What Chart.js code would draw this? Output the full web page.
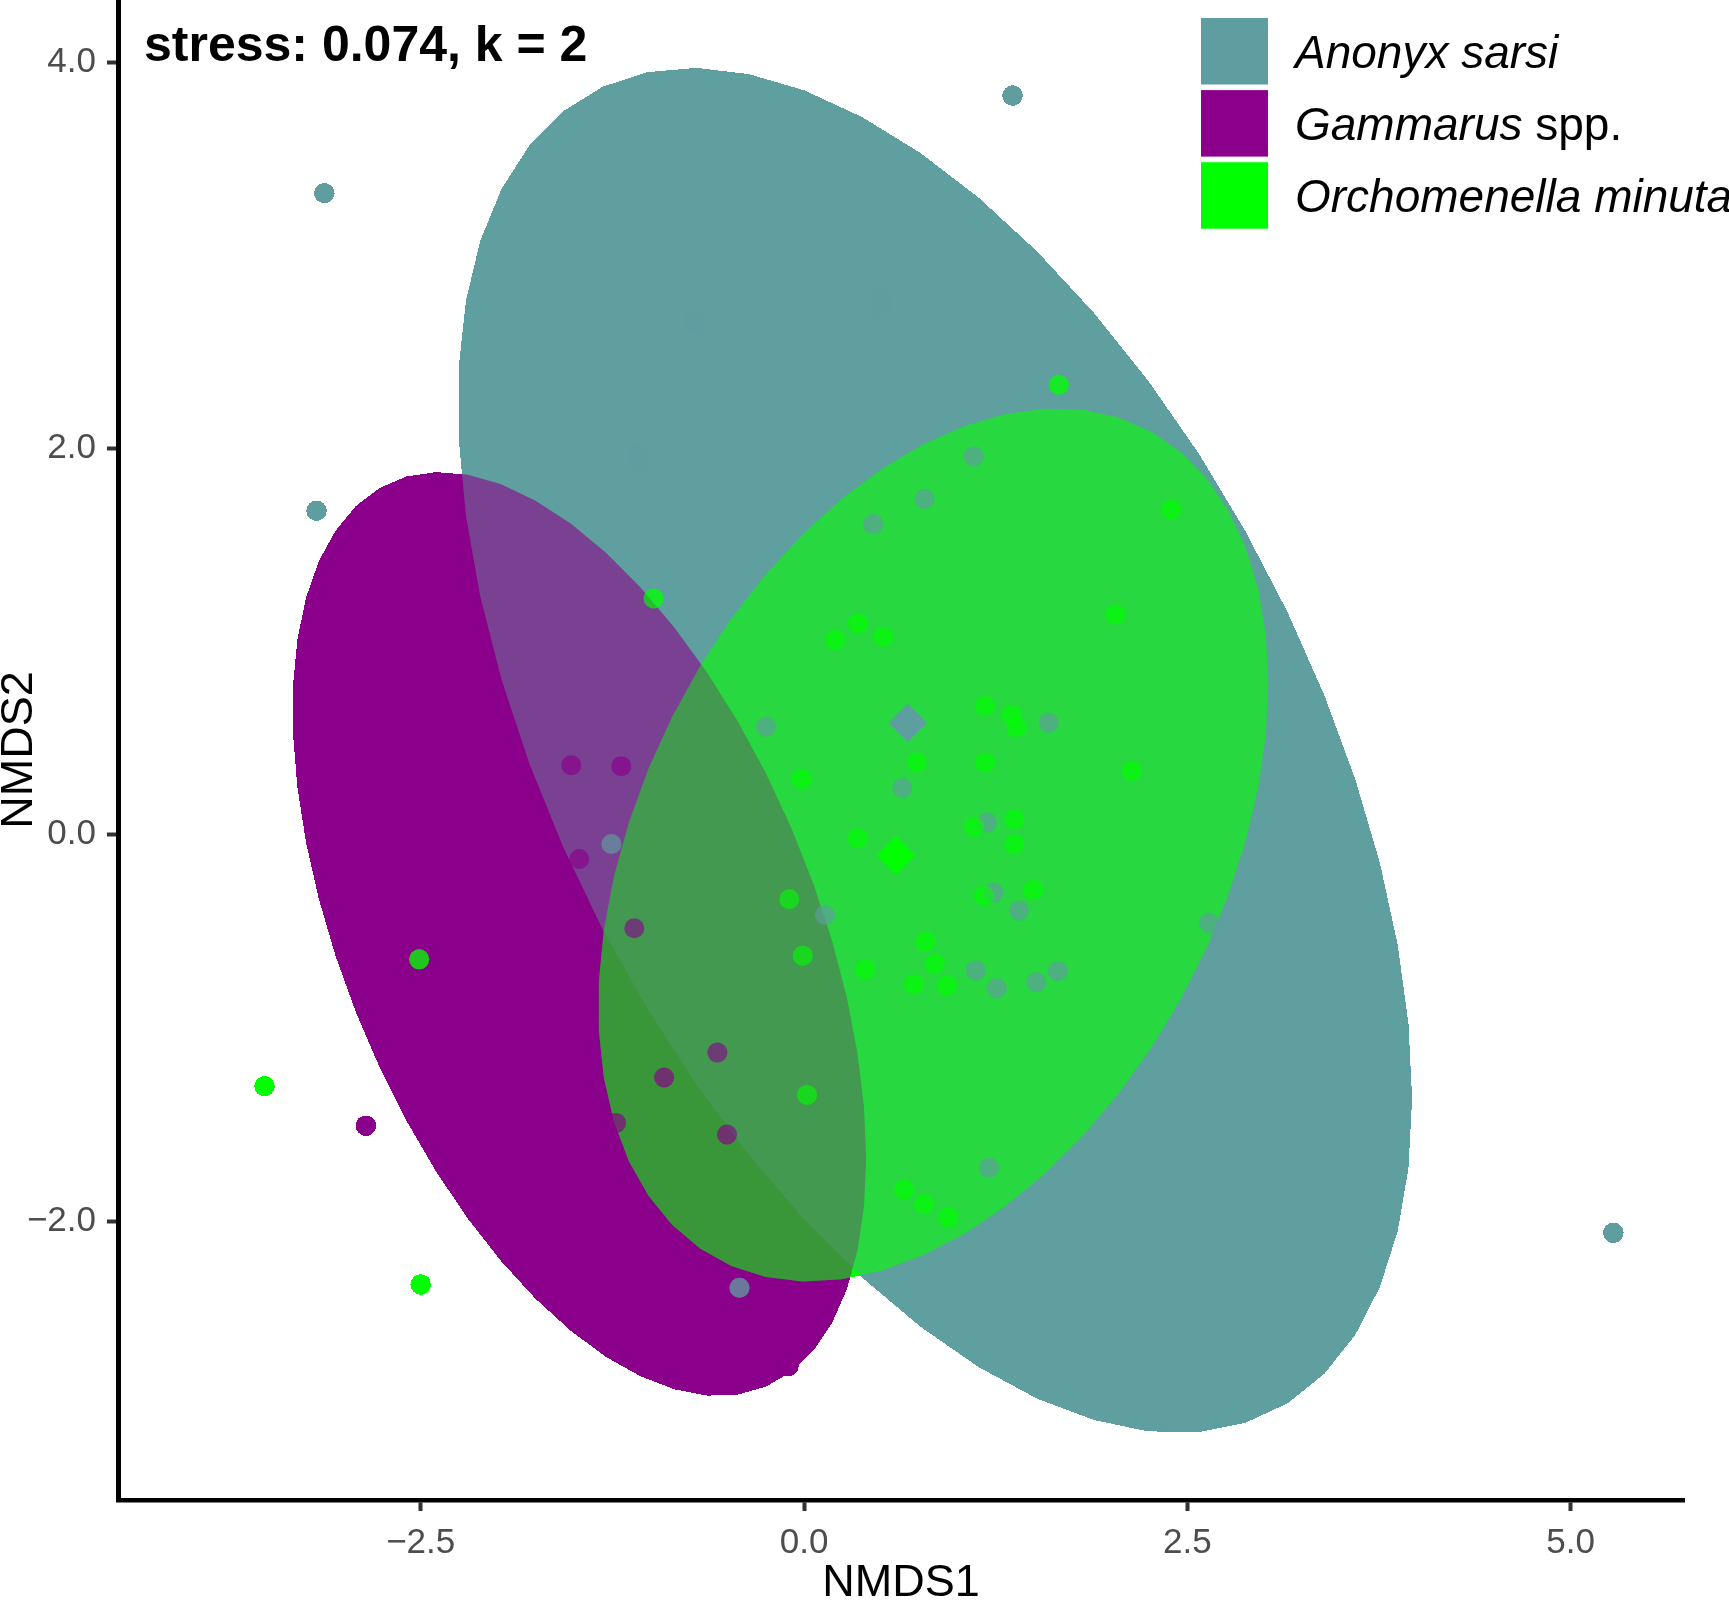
<!DOCTYPE html>
<html>
<head>
<meta charset="utf-8">
<title>NMDS ordination</title>
<script src="https://cdn.jsdelivr.net/npm/chart.js@4.4.1/dist/chart.umd.min.js"></script>
<style>
  html, body { margin: 0; padding: 0; background: #fff; }
  #wrap { width: 1729px; height: 1602px; }
</style>
</head>
<body>
<div id="wrap"><canvas id="nmds" width="1729" height="1602"></canvas></div>
<script>
// species / groups
const groups = ['Anonyx sarsi', 'Gammarus spp.', 'Orchomenella minuta'];
const groupRgb = ['95,158,160', '139,0,139', '0,255,0'];
const legendItalic = ['Anonyx sarsi', 'Gammarus', 'Orchomenella minuta'];
const legendPlain = ['', ' spp.', ''];

// site scores (NMDS1, NMDS2) per species
const anonyxX = [1.360, -3.129, -3.179, 5.278, -0.247, -1.256, -0.421, 1.207, 2.643, 1.107, 0.786, 0.451, 1.596,
  0.642, 0.137, 1.192, 1.235, 1.401, 1.120, 1.257, 1.515, 1.655, -0.711, 0.496, -1.083];
const anonyxY = [3.826, 3.321, 1.677, -2.061, 0.559, -0.048, -2.345, -1.724, -0.457, 1.958, 1.738, 1.608, 0.580,
  0.242, -0.416, 0.063, -0.300, -0.392, -0.703, -0.795, -0.764, -0.705, 2.654, 2.747, 1.960];

const gammarusX = [-1.518, -1.192, -1.466, -1.107, -0.565, -0.912, -0.502, -1.226, -2.857, -0.102];
const gammarusY = [0.360, 0.355, -0.126, -0.484, -1.128, -1.257, -1.552, -1.492, -1.506, -2.750];

const orchoX = [1.661, 2.396, -0.981, 0.202, 0.352, 0.517, 2.032, 2.138, 1.180, 1.355, 1.387, -0.015, 0.734,
  1.180, 0.351, 1.111, 1.372, 1.372, -0.096, -0.008, 1.174, 1.495, 0.794, 0.854, 0.398, 0.717, 0.931,
  0.020, 0.653, 0.783, 0.941, -2.510, -3.518, -2.500];
const orchoY = [2.329, 1.684, 1.223, 1.008, 1.093, 1.025, 1.140, 0.330, 0.666, 0.620, 0.556, 0.288, 0.374,
  0.373, -0.018, 0.041, 0.081, -0.050, -0.334, -0.626, -0.316, -0.286, -0.554, -0.669, -0.697, -0.774, -0.782,
  -1.347, -1.838, -1.913, -1.981, -0.645, -1.302, -2.328];

// group centroids
const centroidX = [0.676, -1.900, 0.600];
const centroidY = [0.580, -0.750, -0.107];

// ellipses: centre, spread along each axis, correlation
const ellipseCx = [0.854, -1.465, 0.843];
const ellipseCy = [0.436, -0.514, -0.053];
const ellipseSx = [3.111, 1.870, 2.185];
const ellipseSy = [3.533, 2.391, 2.260];
const ellipseR = [-0.51, -0.486, 0.37];
const ellipseSegments = 51;

const xTicks = [-2.5, 0, 2.5, 5];
const yTicks = [-2, 0, 2, 4];
const stressLabel = 'stress: 0.074, k = 2';

const FONT = '"Liberation Sans", Arial, Helvetica, sans-serif';

function zipPoints(xs, ys) {
  return xs.map((x, i) => ({x: x, y: ys[i]}));
}

function ellipseOutline(k) {
  const pts = [];
  const r = ellipseR[k];
  const q = Math.sqrt(1 - r * r);
  for (let s = 0; s <= ellipseSegments; s++) {
    const t = 2 * Math.PI * s / ellipseSegments;
    const c = Math.cos(t), sn = Math.sin(t);
    pts.push({x: ellipseCx[k] + ellipseSx[k] * c, y: ellipseCy[k] + ellipseSy[k] * (r * c + q * sn)});
  }
  return pts;
}

function fmtTick(v) {
  return v.toFixed(1).replace('-', '\u2212');
}

const pointSets = [zipPoints(anonyxX, anonyxY), zipPoints(gammarusX, gammarusY), zipPoints(orchoX, orchoY)];

const datasets = [];
groups.forEach((g, k) => {
  datasets.push({
    type: 'line',
    label: g + ' ellipse',
    data: ellipseOutline(k),
    fill: 'shape',
    backgroundColor: 'rgba(' + groupRgb[k] + ',0.3)',
    borderColor: 'rgba(0,0,0,0)',
    borderWidth: 0,
    pointRadius: 0,
    tension: 0,
    order: 9 - k
  });
});
groups.forEach((g, k) => {
  datasets.push({
    label: g,
    data: pointSets[k],
    backgroundColor: 'rgba(' + groupRgb[k] + ',0.5)',
    borderWidth: 0,
    pointRadius: 10,
    pointHoverRadius: 10,
    order: 6 - k
  });
});
groups.forEach((g, k) => {
  datasets.push({
    label: g + ' centroid',
    data: [{x: centroidX[k], y: centroidY[k]}],
    backgroundColor: 'rgb(' + groupRgb[k] + ')',
    borderWidth: 0,
    pointStyle: 'rectRot',
    pointRadius: 19,
    pointHoverRadius: 19,
    order: 3 - k
  });
});

// the plot layer was exported without alpha: anything painted becomes opaque
const flattenLayer = {
  id: 'flattenLayer',
  afterDatasetsDraw(chart) {
    const a = chart.chartArea;
    const dpr = chart.currentDevicePixelRatio || 1;
    const x0 = Math.ceil(a.left * dpr), y0 = Math.floor(a.top * dpr);
    const w = Math.floor(a.right * dpr) - x0, h = Math.ceil(a.bottom * dpr) - y0;
    const img = chart.ctx.getImageData(x0, y0, w, h);
    const d = img.data;
    for (let i = 3; i < d.length; i += 4) {
      d[i] = d[i] >= 30 ? 255 : 0;
    }
    chart.ctx.putImageData(img, x0, y0);
  }
};

const annotations = {
  id: 'annotations',
  afterDraw(chart) {
    const ctx = chart.ctx;
    ctx.save();
    ctx.fillStyle = '#000';
    ctx.textBaseline = 'alphabetic';
    ctx.font = 'bold 50px ' + FONT;
    ctx.fillText(stressLabel, 144, 61);

    // legend
    groups.forEach((g, i) => {
      const top = 18 + i * 72.1;
      ctx.fillStyle = 'rgb(' + groupRgb[i] + ')';
      ctx.fillRect(1201, top, 67, 66.5);
      const base = top + 33.2 + 16.5;
      ctx.fillStyle = '#000';
      ctx.font = 'italic 46px ' + FONT;
      ctx.fillText(legendItalic[i], 1295, base);
      const wi = ctx.measureText(legendItalic[i]).width;
      if (legendPlain[i]) {
        ctx.font = '46px ' + FONT;
        ctx.fillText(legendPlain[i], 1295 + wi, base);
      }
    });
    ctx.restore();
  }
};

const axisCommon = {
  type: 'linear',
  grid: {drawOnChartArea: false, drawTicks: true, tickLength: 11, tickWidth: 4, tickColor: '#333333'},
  border: {display: true, color: '#000000', width: 4.5},
  ticks: {color: '#4D4D4D', font: {family: FONT, size: 35}, padding: 11, callback: (v) => fmtTick(v)}
};

new Chart(document.getElementById('nmds'), {
  type: 'scatter',
  data: {datasets: datasets},
  options: {
    responsive: false,
    devicePixelRatio: 1,
    animation: false,
    events: [],
    layout: {autoPadding: false, padding: {left: 0, right: 45, top: 0, bottom: 0}},
    plugins: {legend: {display: false}, tooltip: {enabled: false}},
    scales: {
      x: Object.assign({}, axisCommon, {
        position: 'bottom',
        min: -4.474,
        max: 5.739,
        afterBuildTicks: (s) => { s.ticks = xTicks.map(v => ({value: v})); },
        afterFit: (s) => { s.height = 102; s.paddingLeft = 0; s.paddingRight = 0; },
        title: {display: true, text: 'NMDS1', color: '#000', font: {family: FONT, size: 45, lineHeight: 0.8}, padding: {top: 0, bottom: 0}}
      }),
      y: Object.assign({}, axisCommon, {
        position: 'left',
        min: -3.444,
        max: 4.321,
        afterBuildTicks: (s) => { s.ticks = yTicks.map(v => ({value: v})); },
        afterFit: (s) => { s.width = 118; s.paddingTop = 0; s.paddingBottom = 0; },
        title: {display: true, text: 'NMDS2', color: '#000', font: {family: FONT, size: 45, lineHeight: 0.8}, padding: {top: 2, bottom: 0}}
      })
    }
  },
  plugins: [flattenLayer, annotations]
});
</script>
</body>
</html>
